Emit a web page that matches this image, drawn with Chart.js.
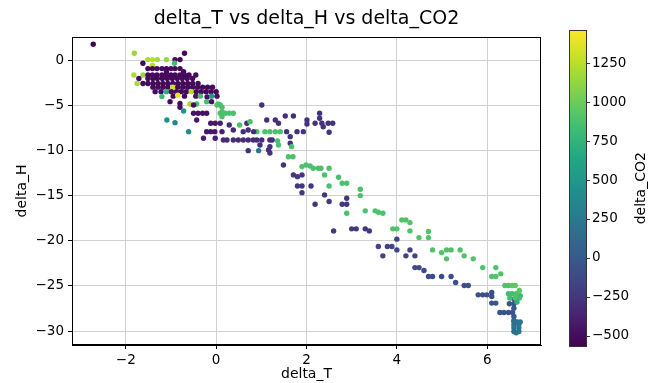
<!DOCTYPE html>
<html>
<head>
<meta charset="utf-8">
<script src="https://cdn.jsdelivr.net/npm/chart.js@4.4.0/dist/chart.umd.min.js"></script>
<style>
  html, body { margin: 0; padding: 0; background: #fff; }
</style>
</head>
<body>
<canvas id="c" width="648" height="383"></canvas>
<script>
// one entry per point, grouped by line (same count on each matching line)
const deltaT = [
  -2.72, -1.81, -0.70,
  -1.51, -1.41, -1.30, -1.10, -0.91, -0.80,
  -1.62, -0.92, -1.41,
  -1.51, -1.41, -1.31, -1.20, -1.10, -1.00, -0.91, -0.80,
  -1.10, -0.72,
  -1.82, -1.62, -1.51, -1.41, -1.31, -1.20, -1.10, -1.00, -0.91, -0.80, -0.70, -0.60, -0.45,
  -1.71, -1.51, -1.40, -1.30, -1.19, -1.08, -0.97, -0.86, -0.75, -0.64, -0.52,
  -1.75, -1.62, -1.51, -1.40, -1.29, -1.18, -1.07, -0.96, -0.85, -0.74, -0.63, -0.52, -0.40,
  -1.40, -1.29, -1.18, -1.07, -0.96, -0.85, -0.74, -0.63, -0.52, -0.41, -0.30, -0.19, -0.08,
  -1.35, -1.22, -1.10, -0.99, -0.88, -0.77, -0.66, -0.55, -0.44, -0.33, -0.22, -0.11, 0.00,
  -1.20, -0.95, -0.85, -0.70, -0.45, -0.35, -0.20, -0.10, 0.02,
  -1.02, -0.80, -0.58, -0.43, -0.21, -0.10, 0.05,
  0.02, 0.09, -0.50, -0.80, 0.13, -0.72, 0.13, 0.13,
  -0.50, -0.40, -0.30, -0.21, 0.09, 0.20, 0.29, 0.38,
  -1.09, -0.91, -0.61,
  1.01, -0.43, -0.12, -0.02, 0.09, 0.29, 0.52, 0.68, 0.75, 0.90,
  1.12, 1.31, 1.38, 1.53, 1.71,
  -0.21, -0.12, -0.03, 0.13, 0.38, 0.60, 0.71, 0.83, 1.08, 1.19, 1.31, 1.42, 1.56, 1.79, 1.93,
  -0.28, -0.02,
  0.16, 0.24, 0.38, 0.49, 0.60, 0.71, 0.82, 0.90, 1.01, 1.19, 1.24,
  1.36, 1.38, 1.64, 1.64, 0.97, 1.19, 0.71, 0.94, 1.16, 1.19, 1.67, 1.60, 1.70,
  2.01, 2.01, 2.19, 2.29, 2.29, 2.34, 2.37, 2.48, 2.58, 2.50,
  1.49, 1.71, 1.80, 1.90, 1.80, 1.90, 2.10, 1.90, 2.40, 2.50, 2.19, 2.79, 2.89, 2.89, 2.60, 3.00, 3.10, 3.30, 3.39,
  1.90, 1.99, 2.08, 2.15, 2.26, 2.32, 2.50, 2.40, 2.71, 2.50, 2.79, 2.89, 3.19, 3.19, 2.89, 3.30, 3.52, 3.59, 3.69,
  4.11, 4.20, 4.29, 3.91, 4.00, 4.29, 4.49, 4.70, 4.70, 4.79, 4.99, 5.10, 5.20, 5.10, 5.40, 5.49, 5.69, 5.90, 6.19, 6.10, 6.19, 6.30,
  4.00, 3.59, 3.79, 3.89, 3.69, 4.00, 4.29, 4.20, 4.40, 4.40, 4.49, 4.60, 4.70, 4.79, 4.99, 5.20, 5.30, 5.49, 5.58, 5.80, 5.90, 5.99, 6.10, 6.10, 6.10, 6.19,
  6.28, 6.37, 6.47, 6.56, 6.49, 6.59, 6.59, 6.59, 6.59, 6.59,
  6.59, 6.66, 6.73, 6.59, 6.70, 6.59, 6.70, 6.59, 6.70, 6.64,
  6.39, 6.47, 6.55, 6.62, 6.47, 6.55, 6.64, 6.71, 6.73, 6.50, 6.62, 6.71, 6.66
];
const deltaH = [
  1.75, 0.75, 0.75,
  0.05, 0.05, 0.05, 0.05, 0.05, 0.05,
  -0.35, -0.35, -0.60,
  -0.95, -0.95, -0.95, -0.95, -0.95, -0.95, -0.95, -0.95,
  -1.30, -1.30,
  -1.65, -1.65, -1.65, -1.65, -1.65, -1.65, -1.65, -1.65, -1.65, -1.65, -1.65, -1.65, -1.65,
  -2.05, -2.05, -2.05, -2.05, -2.05, -2.05, -2.05, -2.05, -2.05, -2.05, -2.05,
  -2.60, -2.60, -2.60, -2.60, -2.60, -2.60, -2.60, -2.60, -2.60, -2.60, -2.60, -2.60, -2.60,
  -3.00, -3.00, -3.00, -3.00, -3.00, -3.00, -3.00, -3.00, -3.00, -3.00, -3.00, -3.00, -3.00,
  -3.50, -3.50, -3.50, -3.50, -3.50, -3.50, -3.50, -3.50, -3.50, -3.50, -3.50, -3.50, -3.50,
  -4.05, -4.00, -3.90, -4.00, -4.00, -4.00, -4.10, -4.00, -4.00,
  -4.61, -4.80, -4.87, -4.87, -4.61, -4.61, -4.87,
  -4.98, -4.98, -4.98, -5.23, -5.23, -5.64, -5.72, -6.27,
  -5.90, -5.90, -5.90, -5.90, -5.90, -5.90, -5.90, -5.90,
  -6.64, -6.93, -7.93,
  -4.98, -6.64, -7.00, -7.00, -7.00, -7.19, -7.19, -7.00, -6.82, -7.93,
  -6.64, -6.64, -7.00, -6.19, -6.19,
  -7.93, -7.93, -7.93, -7.93, -7.74, -7.93, -7.74, -7.93, -7.93, -7.93, -7.93, -7.93, -7.93, -7.93, -7.93,
  -8.66, -8.66,
  -8.85, -8.85, -8.85, -8.85, -8.85, -8.85, -8.85, -8.85, -8.85, -8.85, -8.85,
  -8.95, -9.40, -8.48, -9.21, -9.40, -9.59, -10.03, -10.03, -9.96, -10.30, -9.59, -10.70, -10.70,
  -6.64, -7.08, -7.00, -5.90, -6.45, -7.00, -7.38, -7.00, -7.00, -8.00,
  -11.62, -12.72, -12.91, -12.72, -13.94, -13.94, -13.94, -14.68, -14.93, -15.67, -15.96, -15.96, -15.96, -15.30, -18.92, -18.69, -18.69, -18.69, -18.92,
  -11.80, -11.62, -11.73, -11.98, -11.98, -11.98, -11.98, -12.72, -12.98, -13.94, -13.64, -13.64, -14.30, -15.01, -16.96, -16.70, -16.70, -16.85, -16.96,
  -17.70, -17.70, -18.00, -18.69, -18.69, -18.92, -19.66, -18.99, -19.66, -21.02, -21.32, -21.02, -21.02, -22.01, -21.02, -21.68, -22.01, -22.98, -22.98, -23.97, -23.97, -23.67,
  -19.83, -20.65, -20.65, -20.65, -21.68, -21.02, -21.02, -21.68, -21.68, -22.98, -22.98, -23.31, -23.97, -23.97, -23.97, -23.97, -24.63, -24.97, -24.97, -26.00, -26.00, -26.00, -25.74, -26.18, -26.91, -26.91,
  -27.95, -27.95, -27.95, -27.95, -26.99, -26.99, -27.47, -26.47, -28.40, -28.84,
  -28.95, -29.00, -29.00, -29.31, -29.31, -29.65, -29.65, -30.05, -30.05, -30.20,
  -24.97, -24.97, -24.97, -24.97, -25.88, -25.88, -25.88, -25.52, -26.10, -26.36, -26.36, -26.36, -26.80
];
const deltaCO2 = [
  -560, 1150, -520,
  1200, 1250, 1200, 1150, -520, -520,
  -530, 850, 1250,
  -520, -520, -520, -520, -520, -520, -520, -520,
  -520, -520,
  1200, 1150, -520, -520, -520, -520, -520, -520, -520, -520, -520, -520, -500,
  -520, -520, -520, -520, -520, -520, -520, -520, -520, -520, -520,
  1200, -520, -520, -520, -520, -520, -520, -520, -520, -520, -520, -520, -500,
  -520, -520, -520, -520, 1300, -520, -520, -520, -520, -520, -520, -520, -520,
  -520, -520, 700, -520, -520, -520, -520, 1250, -520, -520, -520, -520, -520,
  800, -520, 1400, -520, -480, 850, -480, 500, -480,
  -500, -500, 1200, 850, 850, -480, 880,
  880, 880, -500, -500, 880, 450, 880, 880,
  -480, -480, -480, -480, 880, 880, 880, 880,
  420, 350, 400,
  -300, -450, -450, -450, -400, -350, 880, -300, 880, 880,
  -300, -300, -300, -300, -300,
  -450, -450, -450, -400, -350, -300, -300, -300, 880, 880, 880, 880, -280, -280, -280,
  -400, -400,
  -320, -320, -320, -320, -320, -320, -320, -320, -320, -320, -320,
  880, 880, -280, -280, -300, -300, -300, 250, -300, -300, 880, 880, 880,
  -280, -280, -280, -280, -280, -280, -280, -280, -280, -280,
  -250, -250, -250, -250, -250, -250, -250, -250, -250, -250, -250, -250, -250, -250, -250, -250, -250, -250, -250,
  880, 880, 880, 880, 880, 880, 880, 880, 880, 880, 880, 880, 880, 880, 880, 880, 880, 880, 880,
  900, 900, 900, 900, 900, 900, 900, 900, 900, 900, 900, 900, 900, 900, 900, 900, 900, 900, 900, 900, 900, 900,
  -170, -170, -170, -170, -170, -170, -170, -170, -170, -120, -120, -120, -100, -100, -100, -100, -80, -80, -80, -80, -80, -80, -80, -80, -60, -60,
  -60, -60, -60, -40, -60, -40, -20, -40, 20, 80,
  150, 200, 220, 180, 230, 200, 250, 180, 220, 200,
  900, 900, 950, 950, 850, 850, 900, 950, 800, 850, 900, 850, 750
];

const xTicks = [-2, 0, 2, 4, 6];
const yTicks = [0, -5, -10, -15, -20, -25, -30];
const cbarTicks = [-500, -250, 0, 250, 500, 750, 1000, 1250];
const co2Min = -570;
const co2Max = 1465;

const viridis = ['#440154', '#482475', '#414487', '#355f8d', '#2a788e', '#21918c',
                 '#22a884', '#44bf70', '#7ad151', '#bddf26', '#fde725'];

function rgb(h) {
  return [parseInt(h.slice(1, 3), 16), parseInt(h.slice(3, 5), 16), parseInt(h.slice(5, 7), 16)];
}

function colorFor(v) {
  let t = (v - co2Min) / (co2Max - co2Min);
  t = Math.max(0, Math.min(1, t)) * (viridis.length - 1);
  const i = Math.min(Math.floor(t), viridis.length - 2);
  const f = t - i;
  const a = rgb(viridis[i]), b = rgb(viridis[i + 1]);
  const c = a.map((x, k) => Math.round(x + (b[k] - x) * f));
  return 'rgb(' + c.join(',') + ')';
}

const minus = v => String(v).replace('-', '\u2212');

// fixed box sizes, and no extra room asked for by the tick labels
function fixBox(w, h) {
  return s => {
    if (w != null) s.width = w;
    if (h != null) s.height = h;
    s.paddingTop = 0;
    s.paddingBottom = 0;
    s.paddingLeft = 0;
    s.paddingRight = 0;
  };
}

Chart.defaults.font.family = '"DejaVu Sans", sans-serif';
Chart.defaults.color = '#000';

const points = deltaT.map((t, i) => ({ x: t, y: deltaH[i] }));
const colors = deltaCO2.map(colorFor);

// title, frame around the axes, and the colour bar beside it
const frameAndBar = {
  id: 'frameAndBar',
  afterDraw(chart) {
    const { ctx, chartArea: a } = chart;
    const cb = chart.scales.cb;
    ctx.save();
    ctx.strokeStyle = '#000';
    ctx.lineWidth = 1;
    ctx.strokeRect(Math.round(a.left) + 0.5, Math.round(a.top) + 0.5,
                   Math.round(a.right - a.left) - 1, Math.round(a.bottom - a.top) - 1);

    ctx.fillStyle = '#000';
    ctx.font = '19px "DejaVu Sans"';
    ctx.textAlign = 'center';
    ctx.textBaseline = 'middle';
    ctx.fillText('delta_T vs delta_H vs delta_CO2', (a.left + a.right) / 2, 19);

    const top = cb.getPixelForValue(co2Max);
    const bot = cb.getPixelForValue(co2Min);
    const x0 = Math.round(cb.left) + 28, x1 = Math.round(cb.left) + 45;
    const g = ctx.createLinearGradient(0, bot, 0, top);
    viridis.forEach((c, i) => g.addColorStop(i / (viridis.length - 1), c));
    ctx.fillStyle = g;
    ctx.fillRect(x0, top, x1 - x0, bot - top);
    ctx.strokeStyle = '#333';
    ctx.strokeRect(x0 + 0.5, Math.round(top) + 0.5, x1 - x0, Math.round(bot - top));
    ctx.beginPath();
    cbarTicks.forEach(v => {
      const y = Math.round(cb.getPixelForValue(v)) + 0.5;
      ctx.moveTo(x1, y);
      ctx.lineTo(x1 + 4, y);
    });
    ctx.stroke();

    ctx.translate(641, (top + bot) / 2);
    ctx.rotate(-Math.PI / 2);
    ctx.fillStyle = '#000';
    ctx.font = '14px "DejaVu Sans"';
    ctx.fillText('delta_CO2', 0, 0);
    ctx.restore();
  }
};

new Chart(document.getElementById('c'), {
  type: 'scatter',
  data: {
    datasets: [{
      data: points,
      pointBackgroundColor: colors,
      pointBorderWidth: 0,
      pointRadius: 2.7,
      pointHoverRadius: 2.7
    }]
  },
  options: {
    responsive: false,
    animation: false,
    layout: { padding: { top: 37, left: 0, right: 0, bottom: 0 } },
    plugins: {
      legend: { display: false },
      tooltip: { enabled: false },
      title: { display: false }
    },
    scales: {
      x: {
        type: 'linear',
        min: -3.19,
        max: 7.19,
        afterBuildTicks: s => { s.ticks = xTicks.map(v => ({ value: v })); },
        afterFit: fixBox(null, 38),
        grid: { color: '#d0d0d0', tickColor: '#000', tickLength: 4 },
        border: { color: '#000' },
        ticks: { font: { size: 13.5 }, padding: 3, maxRotation: 0, autoSkip: false, callback: minus },
        title: { display: true, text: 'delta_T', font: { size: 14 }, padding: 0 }
      },
      y: {
        type: 'linear',
        min: -31.55,
        max: 2.55,
        afterBuildTicks: s => { s.ticks = yTicks.map(v => ({ value: v })); },
        afterFit: fixBox(72, null),
        grid: { color: '#d0d0d0', tickColor: '#000', tickLength: 4 },
        border: { color: '#000' },
        ticks: { font: { size: 13.5 }, padding: 4, autoSkip: false, callback: minus },
        title: { display: true, text: 'delta_H', font: { size: 14 }, padding: 14 }
      },
      cb: {
        type: 'linear',
        position: 'right',
        min: -561,
        max: 1420,
        afterBuildTicks: s => { s.ticks = cbarTicks.map(v => ({ value: v })); },
        afterFit: fixBox(107, null),
        grid: { display: false, drawTicks: false },
        border: { display: false },
        ticks: { font: { size: 13.5 }, padding: 51, autoSkip: false, callback: minus }
      }
    }
  },
  plugins: [frameAndBar]
});
</script>
</body>
</html>
